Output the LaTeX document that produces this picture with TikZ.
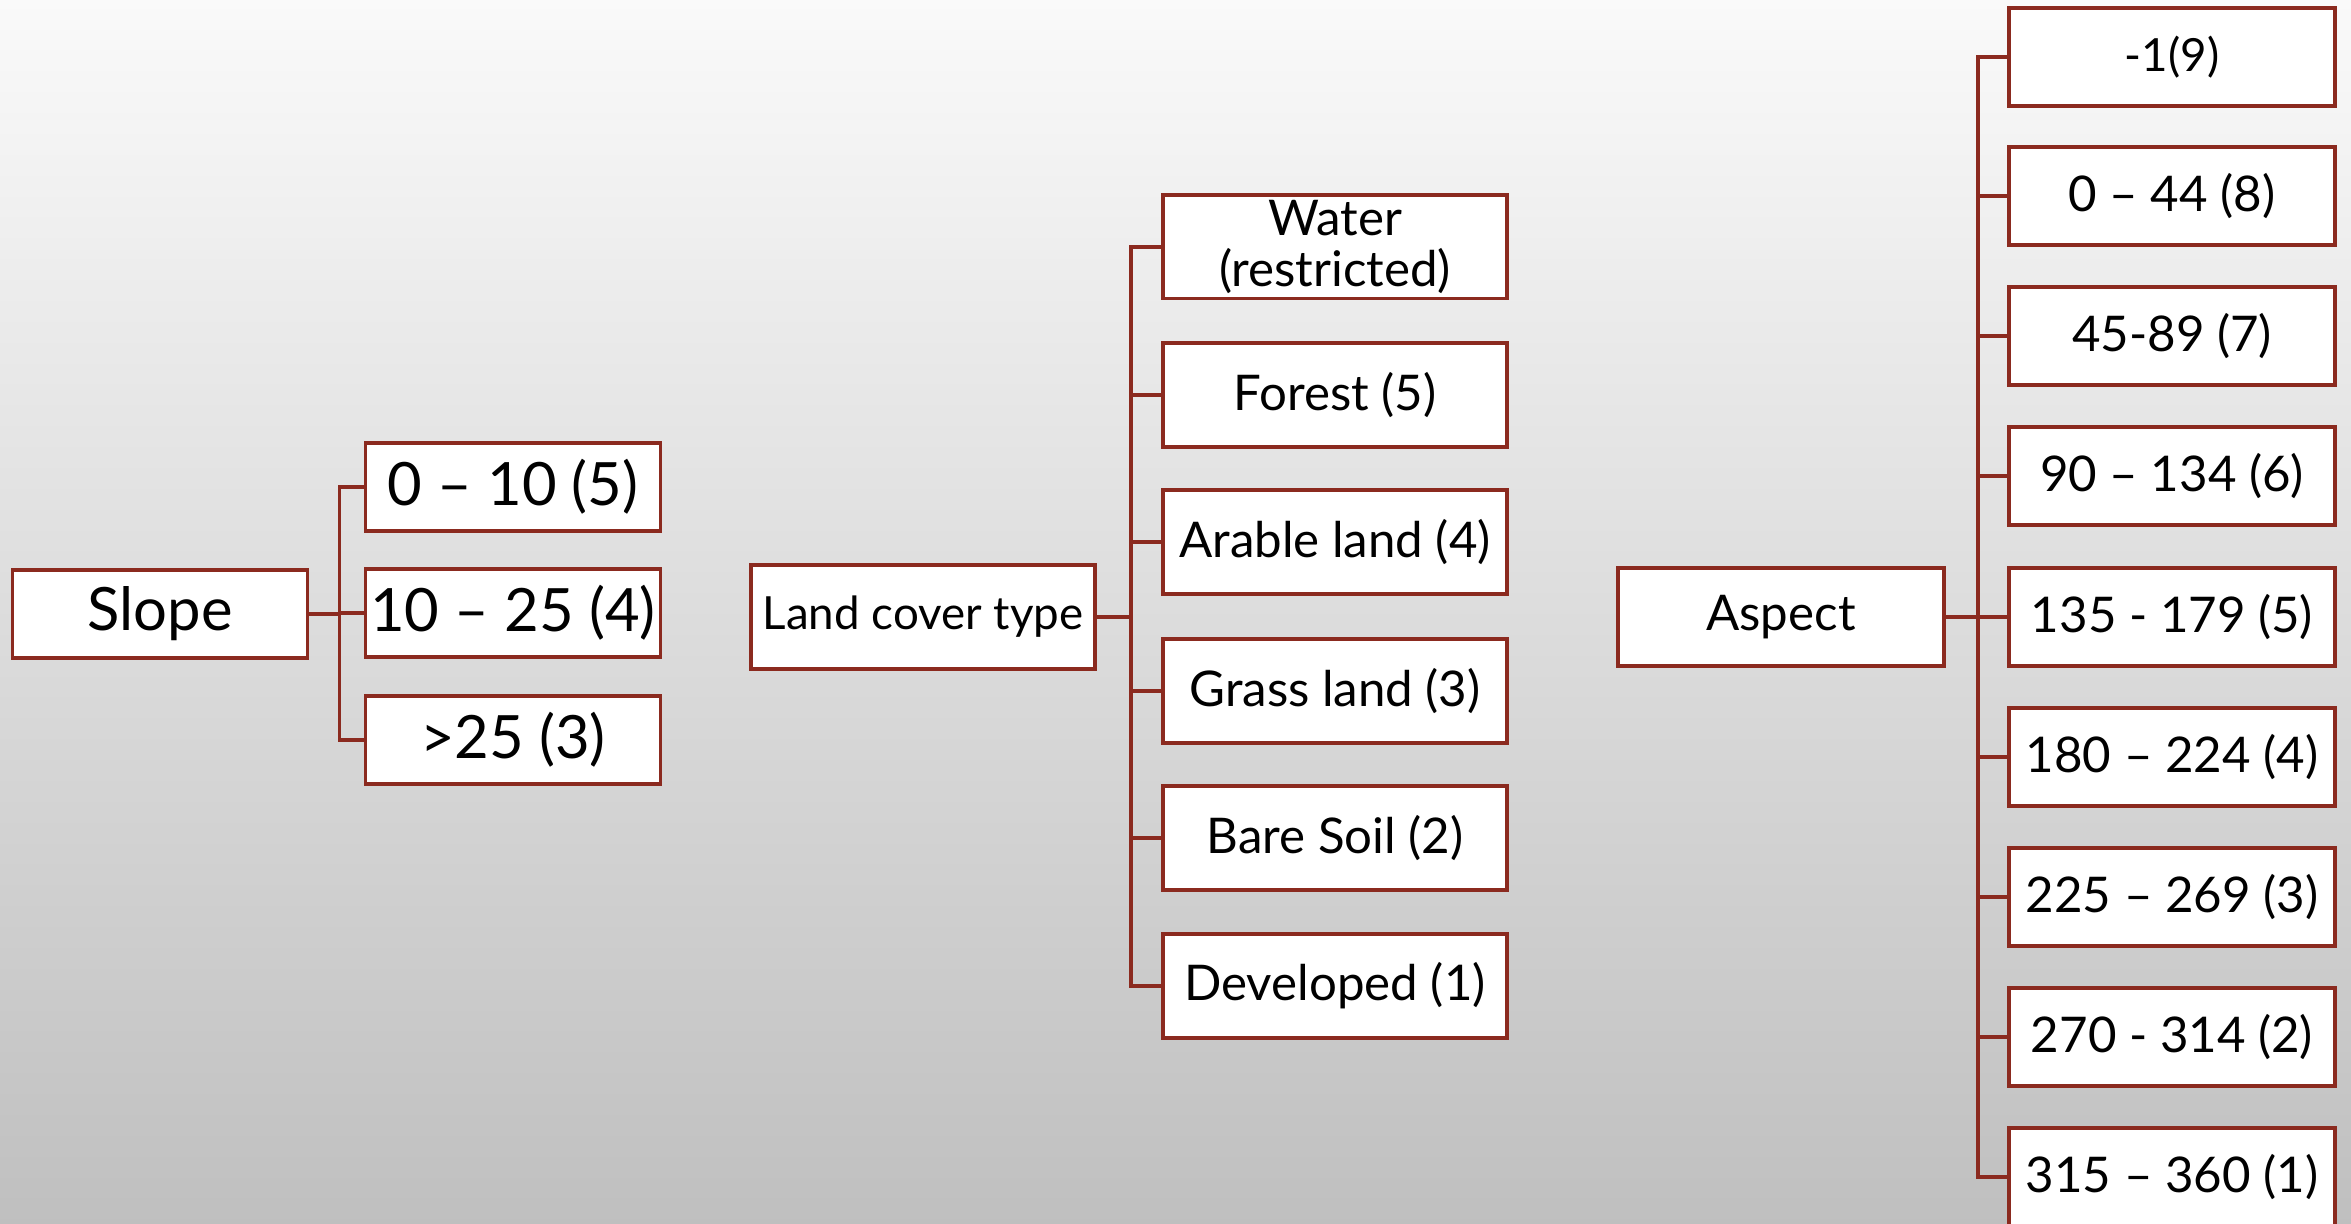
\documentclass[tikz,border=0pt]{standalone}
\usepackage{fontspec}
\setmainfont{Lato}
\definecolor{boxred}{HTML}{8B2A1F}
\begin{document}
\begin{tikzpicture}[x=0.1mm,y=-0.1mm,
  box/.style={draw=boxred,line width=1pt,fill=white,inner sep=0pt,align=center},
  big/.style={box,minimum width=29.5mm,minimum height=8.8mm,font=\fontsize{17}{19}\selectfont},
  mid/.style={box,minimum width=34.4mm,minimum height=10.35mm,font=\fontsize{14}{14.5}\selectfont},
  asp/.style={box,minimum width=32.6mm,minimum height=9.8mm,font=\fontsize{14}{16}\selectfont},
  link/.style={draw=boxred,line width=1pt}]
\shade[top color=white!98!black,middle color=white!90!black,bottom color=white!75!black] (0,0) rectangle (2351,1224);
\useasboundingbox (0,0) rectangle (2351,1224);
\node[big] (slope) at (160,614) {Slope};
\node[big] (s1) at (513,487) {0 – 10 (5)};
\node[big] (s2) at (513,613) {10 – 25 (4)};
\node[big] (s3) at (513,740) {>25 (3)};
\node[mid,font=\fontsize{13}{15}\selectfont] (land) at (923,617) {Land cover type};
\node[mid] (l1) at (1335,247) {Water\\(restricted)};
\node[mid] (l2) at (1335,395) {Forest (5)};
\node[mid] (l3) at (1335,542) {Arable land (4)};
\node[mid] (l4) at (1335,691) {Grass land (3)};
\node[mid] (l5) at (1335,838) {Bare Soil (2)};
\node[mid] (l6) at (1335,986) {Developed (1)};
\node[asp] (aspect) at (1781,617) {Aspect};
\node[asp,font=\fontsize{13}{15}\selectfont] (a1) at (2172,57) {-1(9)};
\node[asp] (a2) at (2172,196) {0 – 44 (8)};
\node[asp] (a3) at (2172,336) {45-89 (7)};
\node[asp] (a4) at (2172,476) {90 – 134 (6)};
\node[asp] (a5) at (2172,617) {135 - 179 (5)};
\node[asp] (a6) at (2172,757) {180 – 224 (4)};
\node[asp] (a7) at (2172,897) {225 – 269 (3)};
\node[asp] (a8) at (2172,1037) {270 - 314 (2)};
\node[asp] (a9) at (2172,1177) {315 – 360 (1)};
\draw[link] (slope.east) -- ++(30,0) |- (s1.west);
\draw[link] (slope.east) -- ++(30,0) |- (s2.west);
\draw[link] (slope.east) -- ++(30,0) |- (s3.west);
\draw[link] (land.east) -- ++(34,0) |- (l1.west);
\draw[link] (land.east) -- ++(34,0) |- (l2.west);
\draw[link] (land.east) -- ++(34,0) |- (l3.west);
\draw[link] (land.east) -- ++(34,0) |- (l4.west);
\draw[link] (land.east) -- ++(34,0) |- (l5.west);
\draw[link] (land.east) -- ++(34,0) |- (l6.west);
\draw[link] (aspect.east) -- ++(32,0) |- (a1.west);
\draw[link] (aspect.east) -- ++(32,0) |- (a2.west);
\draw[link] (aspect.east) -- ++(32,0) |- (a3.west);
\draw[link] (aspect.east) -- ++(32,0) |- (a4.west);
\draw[link] (aspect.east) -- ++(32,0) |- (a5.west);
\draw[link] (aspect.east) -- ++(32,0) |- (a6.west);
\draw[link] (aspect.east) -- ++(32,0) |- (a7.west);
\draw[link] (aspect.east) -- ++(32,0) |- (a8.west);
\draw[link] (aspect.east) -- ++(32,0) |- (a9.west);
\end{tikzpicture}
\end{document}
